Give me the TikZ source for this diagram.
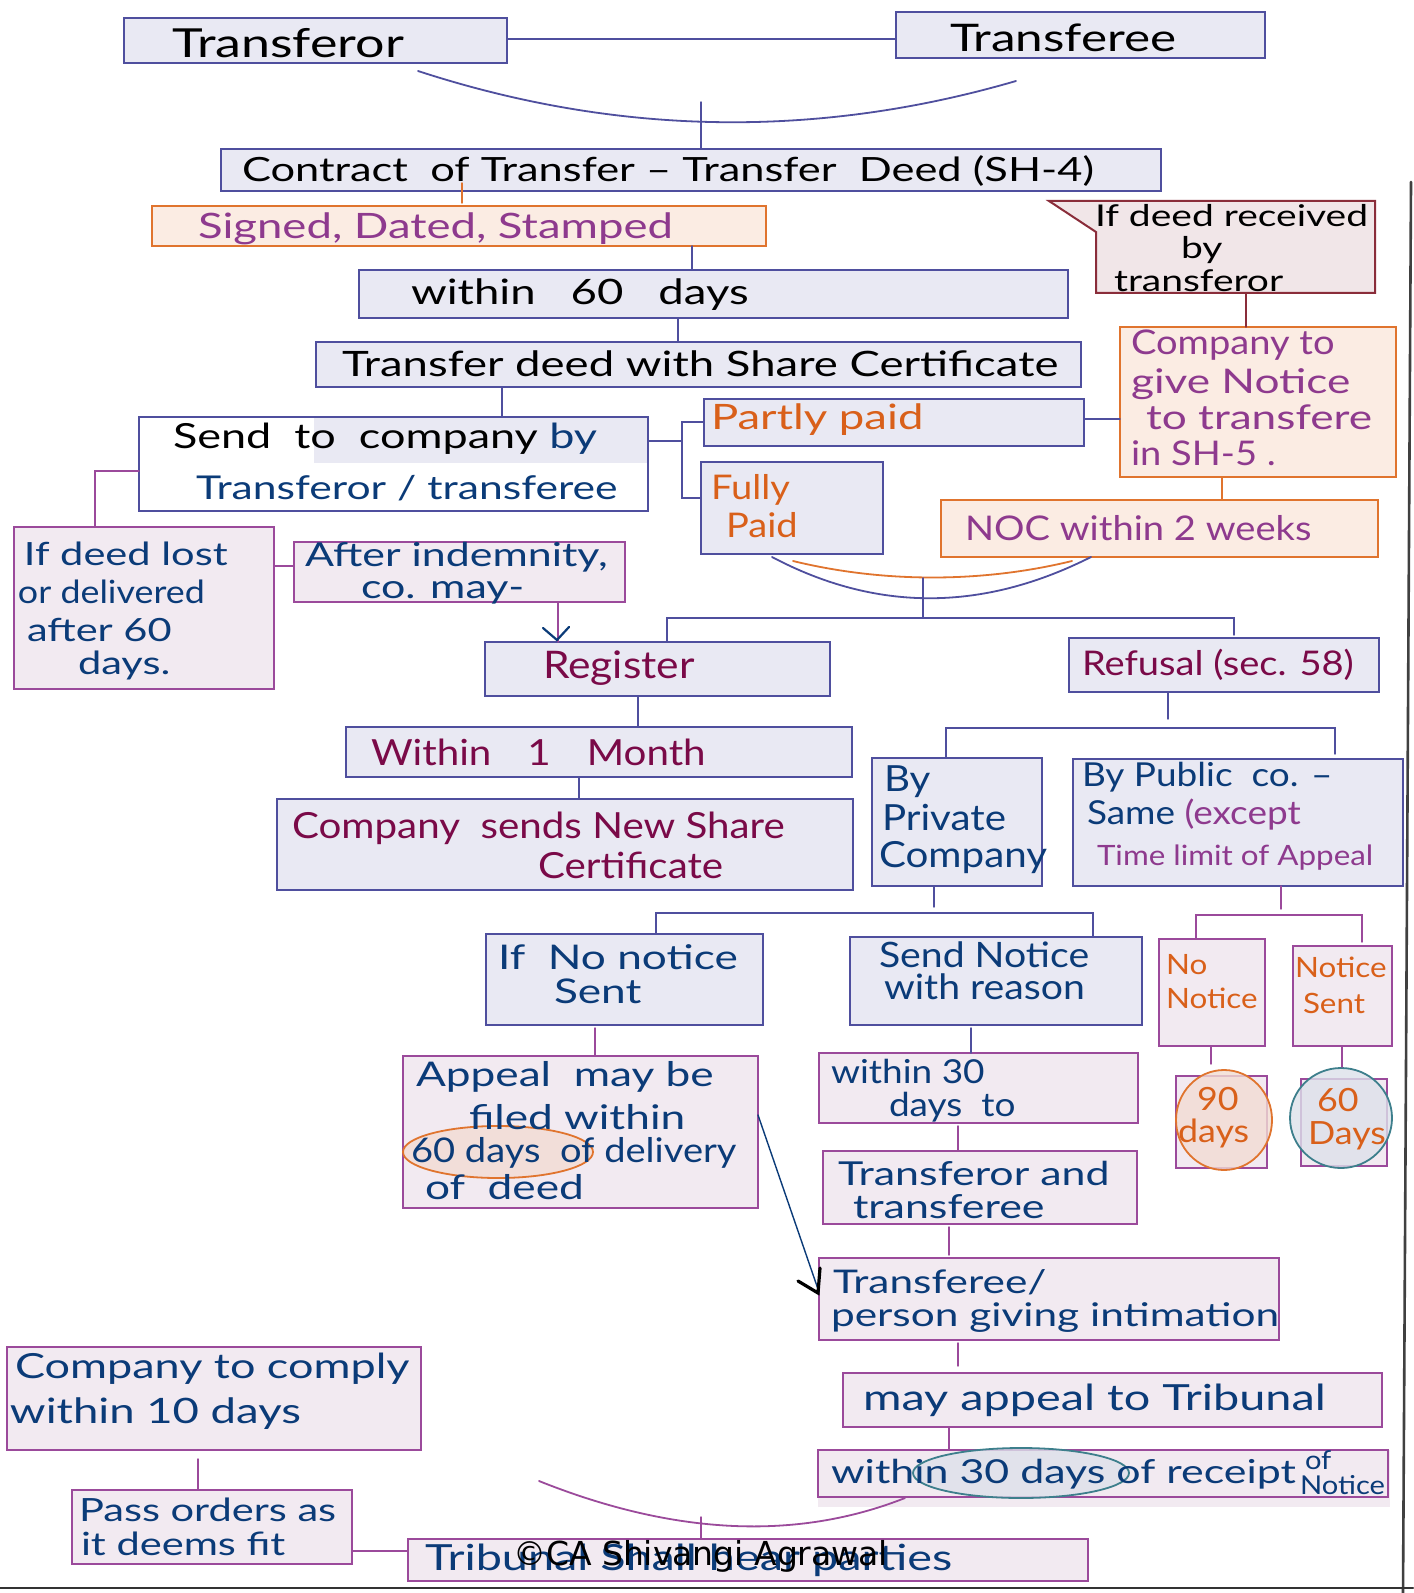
\documentclass[tikz,border=0pt]{standalone}
\usepackage{fontspec}
\setmainfont{Lato}[FakeStretch=1.12]
\newfontfamily\wide{Lato}[FakeStretch=1.3]
\newfontfamily\wmfont{DejaVu Sans}
\usetikzlibrary{calc}
\definecolor{bxB}{HTML}{4F4F9E}
\definecolor{bxF}{HTML}{E9E9F3}
\definecolor{pkB}{HTML}{9B4A9B}
\definecolor{pkF}{HTML}{F2EAF1}
\definecolor{peB}{HTML}{E0742E}
\definecolor{peF}{HTML}{FBECE3}
\definecolor{caB}{HTML}{8A2D3A}
\definecolor{caF}{HTML}{F1E6E8}
\definecolor{tBk}{HTML}{000000}
\definecolor{tPu}{HTML}{8E3A8E}
\definecolor{tDb}{HTML}{0B3B78}
\definecolor{tOr}{HTML}{D9601A}
\definecolor{tMa}{HTML}{7A0A48}
\definecolor{elTeal}{HTML}{3D7F8C}
\definecolor{elTF}{HTML}{DDE1EA}
\definecolor{elOF}{HTML}{F2DCD3}
\newcommand\fsz[1]{\fontsize{#1}{#1}\selectfont}
\newcommand\mkbox[6]{\node[#2, minimum width={(#5-#3)*0.5pt}, minimum height={(#6-#4)*0.5pt}] (#1) at ({(#3+#5)/2},{(#4+#6)/2}) {};}
\begin{document}
\begin{tikzpicture}[x=0.5pt, y=-0.5pt, line cap=round,
  bx/.style={draw=bxB, fill=bxF, line width=1.1pt, inner sep=0pt, outer sep=0pt},
  wb/.style={draw=bxB, fill=white, line width=1.1pt, inner sep=0pt, outer sep=0pt},
  pk/.style={draw=pkB, fill=pkF, line width=1pt, inner sep=0pt, outer sep=0pt},
  pe/.style={draw=peB, fill=peF, line width=1pt, inner sep=0pt, outer sep=0pt},
  ghost/.style={inner sep=0pt, outer sep=0pt},
  conn/.style={draw=bxB, line width=0.7pt},
  pconn/.style={draw=pkB, line width=0.7pt},
  oconn/.style={draw=peB, line width=0.7pt},
  dconn/.style={draw=tDb, line width=0.7pt},
  tx/.style={anchor=west, inner sep=0pt, outer sep=0pt},
  kb/.style={tx, text=tBk},
  kp/.style={tx, text=tPu},
  kd/.style={tx, text=tDb},
  ko/.style={tx, text=tOr},
  km/.style={tx, text=tMa}]
\useasboundingbox (0,0) rectangle (1413,1593);
\fill[white] (0,0) rectangle (1413,1593);

% ---------- boxes ----------
\mkbox{tor}{bx}{124}{18}{507}{63}
\mkbox{tee}{bx}{896}{12}{1265}{58}
\mkbox{contract}{bx}{221}{149}{1161}{191}
\mkbox{signed}{pe}{152}{206}{766}{246}
\draw[caB, fill=caF, line width=1pt] (1049,201) -- (1375,201) -- (1375,293) -- (1096,293) -- (1096,232) -- cycle;
\mkbox{callout}{ghost}{1096}{201}{1375}{293}
\mkbox{w60}{bx}{359}{270}{1068}{318}
\mkbox{tdeed}{bx}{316}{342}{1081}{387}
\mkbox{cgn}{pe}{1120}{327}{1396}{477}
\mkbox{noc}{pe}{941}{500}{1378}{557}
\mkbox{partly}{bx}{704}{399}{1084}{446}
\mkbox{fully}{bx}{701}{462}{883}{554}
\mkbox{send}{wb}{139}{417}{648}{511}
\fill[bxF] (314,418) rectangle (647,463);
\mkbox{lost}{pk}{14}{527}{274}{689}
\mkbox{after}{pk}{294}{542}{625}{602}
\mkbox{register}{bx}{485}{642}{830}{696}
\mkbox{refusal}{bx}{1069}{638}{1379}{692}
\mkbox{wmonth}{bx}{346}{727}{852}{777}
\mkbox{csends}{bx}{277}{799}{853}{890}
\mkbox{priv}{bx}{872}{758}{1042}{886}
\mkbox{pub}{bx}{1073}{759}{1403}{886}
\mkbox{ifno}{bx}{486}{934}{763}{1025}
\mkbox{sendn}{bx}{850}{937}{1142}{1025}
\mkbox{nono}{pk}{1159}{939}{1265}{1046}
\mkbox{nsent}{pk}{1293}{946}{1392}{1046}
\mkbox{appeal}{pk}{403}{1056}{758}{1208}
\mkbox{wthirty}{pk}{819}{1053}{1138}{1123}
\mkbox{torand}{pk}{823}{1151}{1137}{1224}
\mkbox{teeperson}{pk}{819}{1258}{1279}{1340}
\mkbox{mayapp}{pk}{843}{1373}{1382}{1427}
\fill[pkF] (818,1450) rectangle (1390,1507);
\mkbox{wrec}{pk}{818}{1450}{1388}{1497}
\mkbox{dninety}{pk}{1176}{1076}{1267}{1168}
\mkbox{dsixty}{pk}{1301}{1079}{1387}{1166}
\mkbox{tribunal}{pk}{408}{1539}{1088}{1581}
\mkbox{pass}{pk}{72}{1490}{352}{1564}
\mkbox{comply}{pk}{7}{1347}{421}{1450}

% ---------- ellipses ----------
\draw[peB, fill=elOF, fill opacity=0.8, line width=0.9pt] (498,1152) ellipse [x radius=95, y radius=26];
\draw[elTeal, fill=elTF, fill opacity=0.8, line width=0.9pt] (1021,1473) ellipse [x radius=108, y radius=25];
\draw[peB, fill=elOF, fill opacity=0.8, line width=0.9pt] (1224,1120) ellipse [x radius=48, y radius=50];
\draw[elTeal, fill=elTF, fill opacity=0.8, line width=0.9pt] (1341,1118) ellipse [x radius=51, y radius=50];

% ---------- connectors ----------
\draw[conn] (tor.east |- 0,39) -- (tee.west |- 0,39);
\draw[conn, line width=0.9pt] (418,71) .. controls (617,136) and (817,139) .. (1016,81);
\draw[conn] (701,102) -- (contract.north -| 701,0);
\draw[oconn] (462,183) -- (462,203);
\draw[conn] (signed.south -| 692,0) -- (w60.north -| 692,0);
\draw[conn] (w60.south -| 678,0) -- (tdeed.north -| 678,0);
\draw[conn] (tdeed.south -| 502,0) -- (send.north -| 502,0);
\coordinate (brA) at (682,441);
\draw[conn] (send.east |- brA) -- (brA);
\draw[conn] (partly.west |- 0,422) -- (682,422) -- (682,498) -- (fully.west |- 0,498);
\draw[conn] (partly.east |- 0,419) -- (cgn.west |- 0,419);
\draw[draw=caB, line width=0.7pt] (callout.south -| 1246,0) -- (cgn.north -| 1246,0);
\draw[oconn] (cgn.south -| 1222,0) -- (noc.north -| 1222,0);
\draw[pconn] (send.west |- 0,471) -- (95,471) -- (lost.north -| 95,0);
\draw[pconn] (lost.east |- 0,566) -- (after.west |- 0,566);
\draw[pconn] (after.south -| 558,0) -- (register.north -| 558,0);
\draw[tDb, line width=1.1pt] (543,628) -- (557,640) -- (569,627);
% bowl
\draw[conn, line width=0.9pt] (772,557) .. controls (876,612) and (982,612) .. (1091,557);
\draw[oconn, line width=0.9pt] (793,561) .. controls (883,583) and (982,583) .. (1072,561);
\coordinate (bowl) at (923,578);
\draw[conn] (bowl) -- (923,618);
\draw[conn] (register.north -| 667,0) -- (667,618) -- (1234,618) -- (1234,635);
\draw[conn] (register.south -| 638,0) -- (wmonth.north -| 638,0);
\draw[conn] (wmonth.south -| 579,0) -- (csends.north -| 579,0);
\draw[conn] (refusal.south -| 1168,0) -- (1168,719);
\draw[conn] (priv.north -| 946,0) -- (946,728) -- (1335,728) -- (1335,754);
\draw[conn] (priv.south -| 934,0) -- (934,907);
\draw[conn] (ifno.north -| 656,0) -- (656,913) -- (1093,913) -- (sendn.north -| 1093,0);
\draw[pconn] (pub.south -| 1281,0) -- (1281,909);
\draw[pconn] (nono.north -| 1196,0) -- (1196,915) -- (1362,915) -- (1362,942);
\draw[pconn] (595,1028) -- (appeal.north -| 595,0);
\draw[conn] (971,1028) -- (wthirty.north -| 971,0);
\draw[pconn] (958,1126) -- (torand.north -| 958,0);
\draw[pconn] (949,1227) -- (949,1255);
\draw[pconn] (958,1343) -- (958,1366);
\draw[pconn] (mayapp.south -| 949,0) -- (wrec.north -| 949,0);
\draw[pconn] (nono.south -| 1211,0) -- (1211,1064);
\draw[pconn] (nsent.south -| 1342,0) -- (1342,1067);
\draw[pconn] (198,1459) -- (pass.north -| 198,0);
\draw[pconn] (pass.east |- 0,1551) -- (tribunal.west |- 0,1551);
\draw[pconn, line width=0.9pt] (539,1481) .. controls (674,1535) and (796,1541) .. (905,1498);
\draw[pconn] (701,1517) -- (tribunal.north -| 701,0);
\draw[dconn] (appeal.east |- 0,1115) -- (teeperson.west |- 0,1292);
\draw[black, line width=1.6pt] (798,1281) -- (818,1293) -- (820,1268);
% page frame lines
\draw[black!75, line width=1.3pt] (1411,182) -- (1403,1593);
\draw[black!80, line width=1.1pt] (0,1588) -- (1413,1588);

% ---------- texts ----------
\node[kb, font=\wide\fsz{20}] (t1) at (172,43) {Transferor};
\node[kb, font=\wide\fsz{19}] (t2) at (950,38) {Transferee};
\node[kb, font=\wide\fsz{16.7}] (t3) at (242,171) {Contract\ \ of Transfer – Transfer\ \ Deed (SH-4)};
\node[kp, font=\wide\fsz{17.5}] (t4) at (198,229) {Signed, Dated, Stamped};
\node[kb, font=\wide\fsz{15}] (t5a) at (1095,216) {If deed received};
\node[kb, font=\wide\fsz{15}] (t5b) at (1181,250) {by};
\node[kb, font=\wide\fsz{15}] (t5c) at (1114,281) {transferor};
\node[kb, font=\wide\fsz{17.5}] (t6) at (411,295) {within\quad 60\quad days};
\node[kb, font=\wide\fsz{17.5}] (t7) at (342,364) {Transfer deed with Share Certificate};
\node[kp, font=\fsz{17}] (t8a) at (1131,345) {Company to};
\node[kp, font=\wide\fsz{17}] (t8b) at (1131,384) {give Notice};
\node[kp, font=\wide\fsz{17}] (t8c) at (1146,417) {to transfere};
\node[kp, font=\fsz{17}] (t8d) at (1131,453) {in SH-5 .};
\node[ko, font=\wide\fsz{17.5}] (t9) at (711,420) {Partly paid};
\node[ko, font=\fsz{17}] (t10a) at (711,490) {Fully};
\node[ko, font=\fsz{17}] (t10b) at (726,525) {Paid};
\node[kp, font=\fsz{17}] (t11) at (965,528) {NOC within 2 weeks};
\node[kb, font=\wide\fsz{17.3}] (t12a) at (173,439) {Send\ \ to\ \ company \textcolor{tDb}{by}};
\node[kd, font=\wide\fsz{16.4}] (t12b) at (196,488) {Transferor / transferee};
\node[kd, font=\wide\fsz{16}] (t13a) at (24,554) {If deed lost};
\node[kd, font=\fsz{16}] (t13b) at (18,592) {or delivered};
\node[kd, font=\wide\fsz{16}] (t13c) at (27,630) {after 60};
\node[kd, font=\wide\fsz{16}] (t13d) at (78,665) {days.};
\node[kd, font=\wide\fsz{16.5}] (t14a) at (305,557) {After indemnity,};
\node[kd, font=\wide\fsz{16.5}] (t14b) at (361,593) {co. may-};
\node[km, font=\fsz{19}] (t15) at (543,668) {Register};
\node[km, font=\fsz{17}] (t16) at (1082,665) {Refusal (sec. 58)};
\node[km, font=\fsz{18}] (t17) at (371,752) {Within\quad 1\quad Month};
\node[km, font=\fsz{18}] (t18a) at (292,828) {Company\ \ sends New Share};
\node[km, font=\fsz{18}] (t18b) at (538,865) {Certificate};
\node[kd, font=\fsz{18}] (t19a) at (884,782) {By};
\node[kd, font=\fsz{18}] (t19b) at (882,818) {Private};
\node[kd, font=\fsz{18}] (t19c) at (879,858) {Company};
\node[kd, font=\fsz{16.5}] (t20a) at (1082,777) {By Public\ \ co. –};
\node[kd, font=\fsz{16.5}] (t20b) at (1087,815) {Same \textcolor{tPu}{(except}};
\node[kp, font=\fsz{14}] (t20c) at (1097,858) {Time limit of Appeal};
\node[kd, font=\wide\fsz{17}] (t21a) at (498,957) {If\ \ No notice};
\node[kd, font=\wide\fsz{17}] (t21b) at (554,991) {Sent};
\node[kd, font=\fsz{17.5}] (t22a) at (879,955) {Send Notice};
\node[kd, font=\fsz{17.5}] (t22b) at (884,987) {with reason};
\node[ko, font=\fsz{14}] (t23a) at (1166,965) {No};
\node[ko, font=\fsz{14}] (t23b) at (1166,998) {Notice};
\node[ko, font=\fsz{14}] (t24a) at (1295,967) {Notice};
\node[ko, font=\fsz{14}] (t24b) at (1303,1003) {Sent};
\node[ko, font=\fsz{16}] (t25a) at (1197,1099) {90};
\node[ko, font=\fsz{16}] (t25b) at (1178,1133) {days};
\node[ko, font=\fsz{16}] (t26a) at (1317,1100) {60};
\node[ko, font=\fsz{16}] (t26b) at (1308,1136) {Days};
\node[kd, font=\wide\fsz{17}] (t27a) at (416,1077) {Appeal\ \ may be};
\node[kd, font=\wide\fsz{17}] (t27b) at (469,1117) {filed within};
\node[kd, font=\fsz{17}] (t27c) at (411,1153) {60 days\ \ of delivery};
\node[kd, font=\wide\fsz{17}] (t27d) at (425,1187) {of\ \ deed};
\node[kd, font=\fsz{16.5}] (t28a) at (831,1071) {within 30};
\node[kd, font=\fsz{16.5}] (t28b) at (889,1107) {days\ \ to};
\node[kd, font=\wide\fsz{16.5}] (t29a) at (838,1173) {Transferor and};
\node[kd, font=\wide\fsz{16.5}] (t29b) at (853,1207) {transferee};
\node[kd, font=\wide\fsz{16.3}] (t30a) at (833,1282) {Transferee/};
\node[kd, font=\wide\fsz{16.3}] (t30b) at (831,1318) {person giving intimation};
\node[kd, font=\wide\fsz{18}] (t31) at (863,1400) {may appeal to Tribunal};
\node[kd, font=\wide\fsz{16.5}] (t32a) at (831,1474) {within 30 days of receipt};
\node[kd, font=\fsz{13}] (t32b) at (1305,1460) {of};
\node[kd, font=\fsz{13}] (t32c) at (1300,1485) {Notice};
\node[kd, font=\wide\fsz{17.3}] (t33a) at (15,1369) {Company to comply};
\node[kd, font=\wide\fsz{17.5}] (t33b) at (10,1414) {within 10 days};
\node[kd, font=\wide\fsz{16}] (t34a) at (79,1510) {Pass orders as};
\node[kd, font=\wide\fsz{16}] (t34b) at (81,1544) {it deems fit};
\node[kd, font=\wide\fsz{18}] (t35) at (425,1560) {Tribunal Shall hear parties};
\node[kb, font=\wmfont\fsz{16.5}] (wm) at (513,1556) {©CA Shivangi Agrawal};
\end{tikzpicture}
\end{document}
